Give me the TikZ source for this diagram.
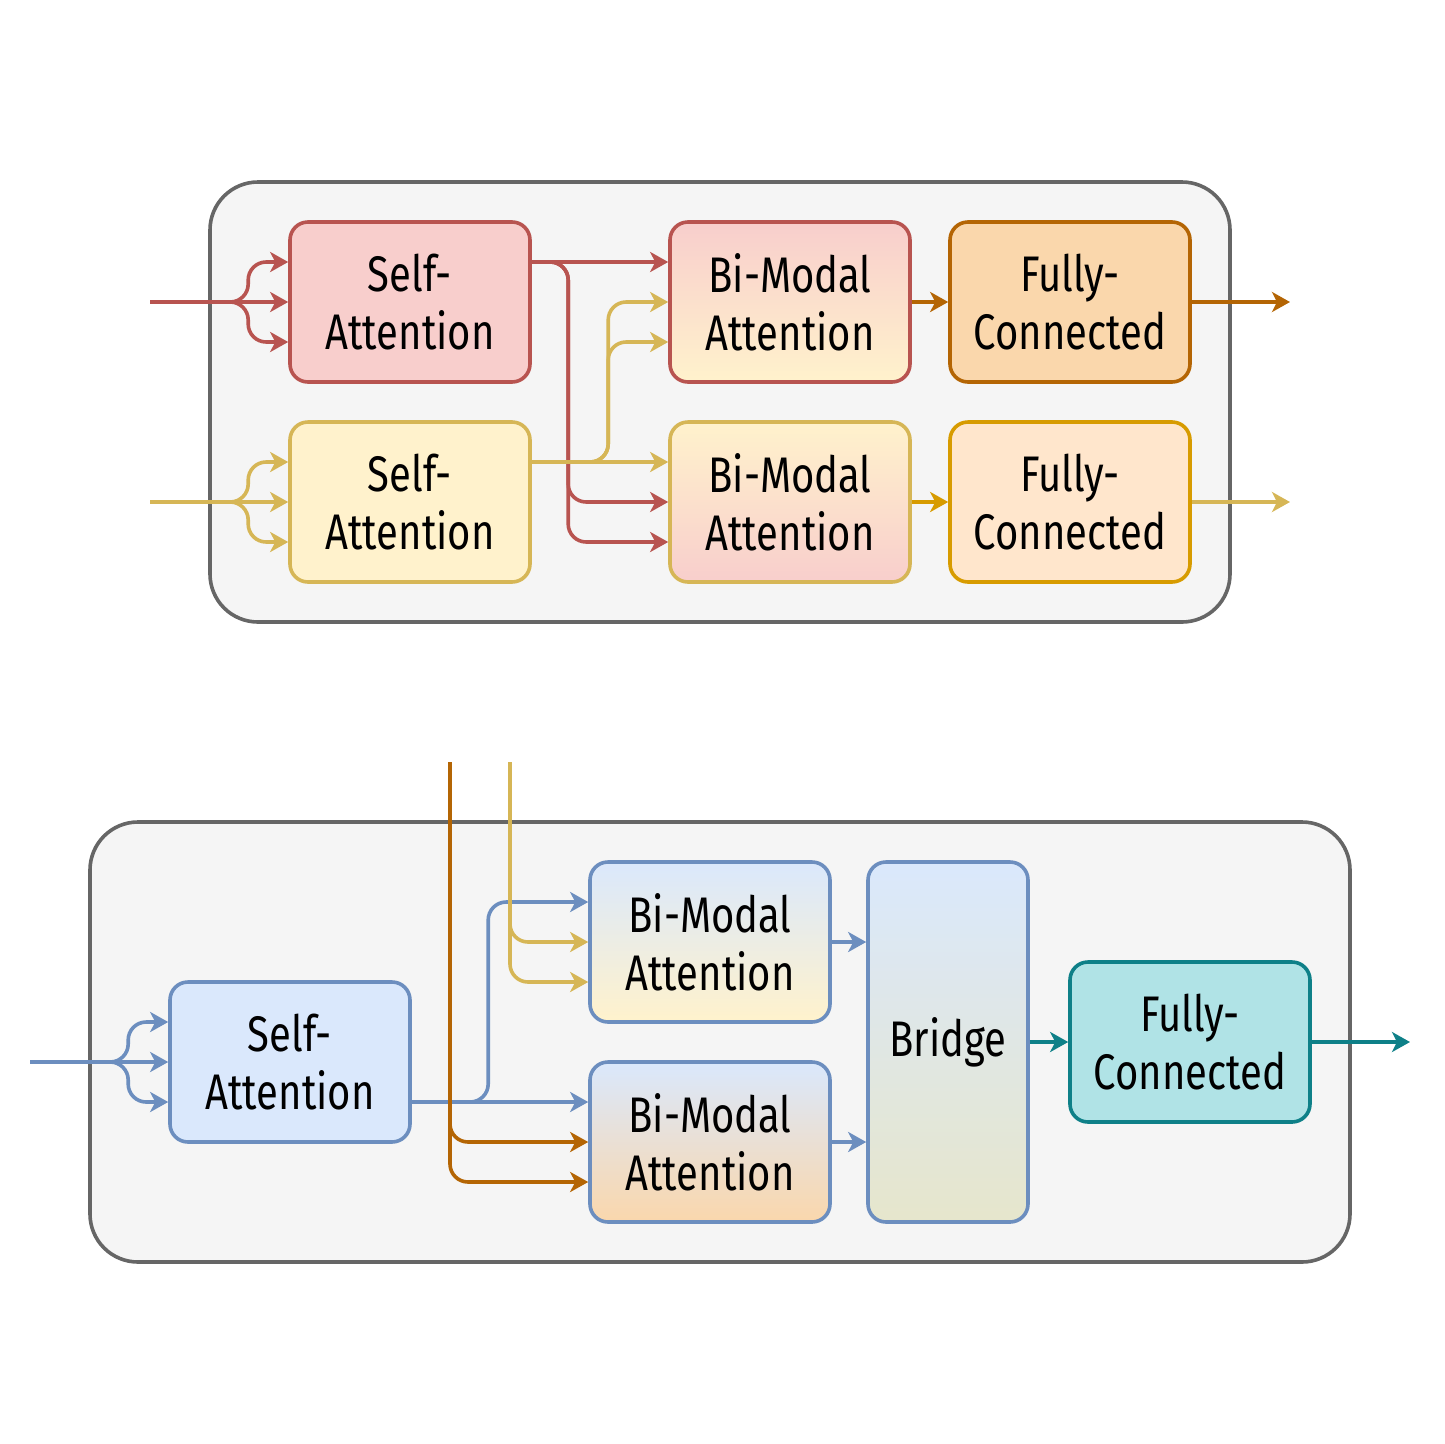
\documentclass[tikz,border=0pt]{standalone}
\usepackage{fontspec}
\setmainfont{Fira Sans}[FakeStretch=0.8]
\usetikzlibrary{arrows.meta}

\definecolor{redline}{HTML}{B85450}
\definecolor{redfill}{HTML}{F8CECC}
\definecolor{yelline}{HTML}{D6B656}
\definecolor{yelfill}{HTML}{FFF2CC}
\definecolor{bluline}{HTML}{6C8EBF}
\definecolor{blufill}{HTML}{DAE8FC}
\definecolor{brnline}{HTML}{B46504}
\definecolor{brnfill}{HTML}{FAD7AC}
\definecolor{orgline}{HTML}{D79B00}
\definecolor{orgfill}{HTML}{FFE6CC}
\definecolor{tealline}{HTML}{0E8088}
\definecolor{tealfill}{HTML}{B0E3E6}
\definecolor{olivefill}{HTML}{E6E6CC}
\definecolor{boxline}{HTML}{666666}
\definecolor{boxfill}{HTML}{F5F5F5}

\begin{document}
\begin{tikzpicture}[x=1pt,y=-1pt]

\tikzset{
    block/.style={draw, line width=3.6pt, rounded corners=18pt, minimum width=240pt, minimum height=160pt,
        align=center, inner sep=0pt, font=\fontsize{50}{58}\selectfont},
    frame/.style={draw=boxline, fill=boxfill, line width=3.6pt, rounded corners=48pt},
    conn/.style={line width=3.6pt, rounded corners=18pt, -{Stealth[length=18pt,width=20pt,inset=5pt]}}
}
\useasboundingbox (0,0) rectangle (1444,1444);

% upper module
\draw[frame] (210,182) rectangle (1230,622);
\node[block, draw=redline, fill=redfill] (saR) at (410,302) {Self-\\Attention};
\node[block, draw=yelline, fill=yelfill] (saY) at (410,502) {Self-\\Attention};
\node[block, draw=redline, top color=redfill, bottom color=yelfill] (bmR) at (790,302) {Bi-Modal\\Attention};
\node[block, draw=yelline, top color=yelfill, bottom color=redfill] (bmY) at (790,502) {Bi-Modal\\Attention};
\node[block, draw=brnline, fill=brnfill] (fcR) at (1070,302) {Fully-\\Connected};
\node[block, draw=orgline, fill=orgfill] (fcY) at (1070,502) {Fully-\\Connected};

\coordinate (inR) at (150,302);
\coordinate (inY) at (150,502);
\coordinate (outR) at (1290,302);
\coordinate (outY) at (1290,502);

\draw[conn, redline] (inR) -- (saR.west);
\draw[conn, redline] (inR) -| ([xshift=-40pt,yshift=40pt]saR.west) -- ([yshift=40pt]saR.west);
\draw[conn, redline] (inR) -| ([xshift=-40pt,yshift=-40pt]saR.west) -- ([yshift=-40pt]saR.west);
\draw[conn, yelline] (inY) -- (saY.west);
\draw[conn, yelline] (inY) -| ([xshift=-40pt,yshift=40pt]saY.west) -- ([yshift=40pt]saY.west);
\draw[conn, yelline] (inY) -| ([xshift=-40pt,yshift=-40pt]saY.west) -- ([yshift=-40pt]saY.west);

\draw[conn, redline] ([yshift=40pt]saR.east) -- ([yshift=40pt]bmR.west);
\draw[conn, redline] ([yshift=40pt]saR.east) -| ([xshift=-100pt]bmY.west) -- (bmY.west);
\draw[conn, redline] ([yshift=40pt]saR.east) -| ([xshift=-100pt,yshift=-40pt]bmY.west) -- ([yshift=-40pt]bmY.west);
\draw[conn, yelline] ([yshift=40pt]saY.east) -- ([yshift=40pt]bmY.west);
\draw[conn, yelline] ([yshift=40pt]saY.east) -| ([xshift=-60pt]bmR.west) -- (bmR.west);
\draw[conn, yelline] ([yshift=40pt]saY.east) -| ([xshift=-60pt,yshift=-40pt]bmR.west) -- ([yshift=-40pt]bmR.west);

\draw[conn, brnline] (bmR) -- (fcR);
\draw[conn, orgline] (bmY) -- (fcY);
\draw[conn, brnline] (fcR) -- (outR);
\draw[conn, yelline] (fcY) -- (outY);

% lower module
\draw[frame] (90,822) rectangle (1350,1262);
\node[block, draw=bluline, fill=blufill] (saB) at (290,1062) {Self-\\Attention};
\node[block, draw=bluline, top color=blufill, bottom color=yelfill] (bmB1) at (710,942) {Bi-Modal\\Attention};
\node[block, draw=bluline, top color=blufill, bottom color=brnfill] (bmB2) at (710,1142) {Bi-Modal\\Attention};
\node[block, draw=bluline, top color=blufill, bottom color=olivefill, minimum width=160pt, minimum height=360pt] (bridge) at (948,1042) {Bridge};
\node[block, draw=tealline, fill=tealfill] (fcB) at (1190,1042) {Fully-\\Connected};

\coordinate (inB) at (30,1062);
\coordinate (topR) at (450,762);
\coordinate (topY) at (510,762);
\coordinate (outB) at (1410,1042);

\draw[conn, bluline] (inB) -- (saB.west);
\draw[conn, bluline] (inB) -| ([xshift=-40pt,yshift=40pt]saB.west) -- ([yshift=40pt]saB.west);
\draw[conn, bluline] (inB) -| ([xshift=-40pt,yshift=-40pt]saB.west) -- ([yshift=-40pt]saB.west);
\draw[conn, bluline] ([yshift=-40pt]saB.east) -- ([yshift=40pt]bmB2.west);
\draw[conn, bluline] ([yshift=-40pt]saB.east) -| ([xshift=-100pt,yshift=40pt]bmB1.west) -- ([yshift=40pt]bmB1.west);

\draw[conn, brnline] (topR) |- (bmB2.west);
\draw[conn, brnline] (topR) |- ([yshift=-40pt]bmB2.west);
\draw[conn, yelline] (topY) |- (bmB1.west);
\draw[conn, yelline] (topY) |- ([yshift=-40pt]bmB1.west);

\draw[conn, bluline] (bmB1.east) -- (bridge.west |- bmB1.east);
\draw[conn, bluline] (bmB2.east) -- (bridge.west |- bmB2.east);
\draw[conn, tealline] (bridge) -- (fcB);
\draw[conn, tealline] (fcB) -- (outB);

\end{tikzpicture}
\end{document}
